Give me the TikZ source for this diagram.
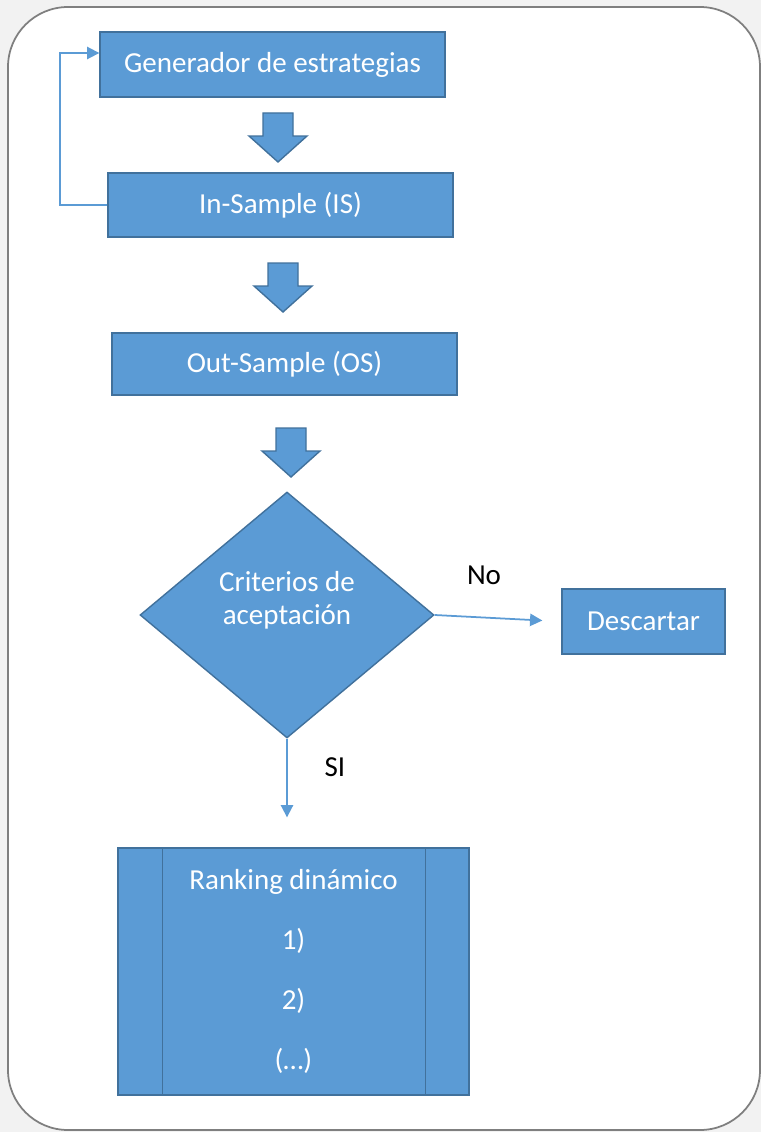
\documentclass[tikz,border=0pt]{standalone}
\usepackage{fontspec}
\setmainfont{Carlito}
\usepackage{tikz}
\usetikzlibrary{shapes,arrows,arrows.meta}
\definecolor{boxblue}{HTML}{5B9BD5}
\definecolor{boxedge}{HTML}{41719C}
\definecolor{frame}{HTML}{7F7F7F}
\definecolor{pagebg}{HTML}{F2F2F2}
\tikzset{box/.style={rectangle,draw=boxedge,fill=boxblue,text=white,line width=0.8pt,
    inner sep=0pt,align=center,font=\fontsize{16.5}{19}\selectfont}}
\tikzset{flow/.style={draw=boxblue,line width=1pt,-{Triangle[length=7pt,width=7pt]}}}
\tikzset{tag/.style={text=black,inner sep=0pt,font=\fontsize{16.5}{19}\selectfont}}

\begin{document}
\begin{tikzpicture}[x=0.02cm,y=-0.02cm]
    \fill[pagebg] (0,0) rectangle (761,1132);
    \draw[draw=frame,fill=white,line width=1pt,rounded corners=1.2cm] (8,7) rectangle (760,1130);

    \node[box,minimum width=6.9cm,minimum height=1.3cm] (gen) at (272.5,64.5) {Generador de estrategias};
    \node[box,minimum width=6.9cm,minimum height=1.28cm] (is) at (280.5,205) {In-Sample (IS)};
    \node[box,minimum width=6.9cm,minimum height=1.24cm] (os) at (284.5,364) {Out-Sample (OS)};
    \node[box,diamond,minimum width=5.88cm,minimum height=4.92cm] (crit) at (287,615) {};
    \node[tag,text=white,align=center] (critText) at (287,600) {Criterios de\\aceptación};
    \node[box,minimum width=3.26cm,minimum height=1.3cm] (desc) at (643.5,621.5) {Descartar};
    \node[box,minimum width=7.02cm,minimum height=4.94cm,font=\fontsize{16.5}{34}\selectfont] (rank) at (293.5,971.5) {Ranking dinámico\\1)\\2)\\(…)};
    \draw[draw=boxedge,line width=0.8pt] ([xshift=0.9cm]rank.north west) -- ([xshift=0.9cm]rank.south west);
    \draw[draw=boxedge,line width=0.8pt] ([xshift=-0.88cm]rank.north east) -- ([xshift=-0.88cm]rank.south east);

    % block arrows between the boxes
    \foreach \x/\y in {278/113, 283/263, 291/428}
      \draw[draw=boxedge,fill=boxblue,line width=0.8pt] (\x-15,\y) -- ++(30,0) -- ++(0,23) -- ++(14,0)
        -- (\x,\y+49) -- (\x-29,\y+23) -- ++(14,0) -- cycle;

    \draw[flow] (is.west) -- ++(-47,0) |- ([yshift=0.23cm]gen.west);
    \draw[flow,shorten >=0.38cm] (crit.east) -- (desc.west);
    \draw[flow,shorten >=0.6cm] (crit.south) -- (crit.south |- rank.north);
    \node[tag] (no) at (484,575) {No};
    \node[tag] (si) at (335,767) {SI};
\end{tikzpicture}
\end{document}
